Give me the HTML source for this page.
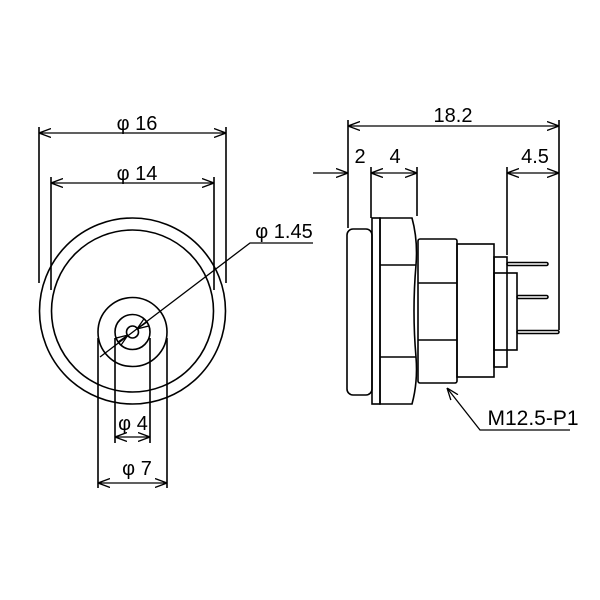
<!DOCTYPE html>
<html><head><style>html,body{margin:0;padding:0;background:#fff}svg{display:block}</style></head>
<body>
<svg width="600" height="600" viewBox="0 0 600 600" xmlns="http://www.w3.org/2000/svg">
<defs>
<marker id="a" viewBox="0 0 12 10" refX="12" refY="5" markerWidth="12" markerHeight="10" markerUnits="userSpaceOnUse" orient="auto-start-reverse">
<path d="M0,0.5 L12,5 L0,9.5" fill="none" stroke="#000" stroke-width="1.3"/></marker>
</defs>
<g fill="none" stroke="#000" stroke-width="1.6">
<circle cx="132.5" cy="311" r="93"/>
<circle cx="132.5" cy="311" r="81"/>
<circle cx="132.5" cy="332" r="34.5"/>
<circle cx="132.5" cy="332" r="17.5"/>
<circle cx="132.5" cy="332" r="6"/>
<line x1="39" y1="127" x2="39" y2="283"/>
<line x1="226" y1="127" x2="226" y2="283"/>
<line x1="51" y1="177" x2="51" y2="290"/>
<line x1="214" y1="177" x2="214" y2="290"/>
<line x1="98" y1="338" x2="98" y2="488"/>
<line x1="167" y1="338" x2="167" y2="488"/>
<line x1="115" y1="338" x2="115" y2="443"/>
<line x1="150" y1="338" x2="150" y2="443"/>
</g>
<g fill="none" stroke="#000" stroke-width="1.3">
<line x1="39" y1="133" x2="226" y2="133" marker-start="url(#a)" marker-end="url(#a)"/>
<line x1="51" y1="183" x2="214" y2="183" marker-start="url(#a)" marker-end="url(#a)"/>
<line x1="115" y1="437" x2="150" y2="437" marker-start="url(#a)" marker-end="url(#a)"/>
<line x1="98" y1="483" x2="167" y2="483" marker-start="url(#a)" marker-end="url(#a)"/>
<polyline points="100,357 250,243 313,243"/>
<line x1="128" y1="335" x2="118" y2="342" marker-start="url(#a)"/>
<line x1="137" y1="329" x2="147" y2="322" marker-start="url(#a)"/>
</g>
<g fill="none" stroke="#000" stroke-width="1.6">
<rect x="347" y="229" width="25" height="166" rx="6"/>
<rect x="372" y="218" width="8" height="186"/>
<path d="M380,218 H412 Q418,240 416,265 Q412,311 416,357 Q418,382 412,404 H380 Z"/>
<line x1="380" y1="265" x2="416" y2="265"/>
<line x1="380" y1="357" x2="416" y2="357"/>
<rect x="418" y="239" width="39" height="144" rx="2"/>
<line x1="418" y1="283" x2="457" y2="283"/>
<line x1="418" y1="340" x2="457" y2="340"/>
<rect x="457" y="244" width="37" height="133"/>
<rect x="494" y="257" width="13" height="110"/>
<rect x="494" y="273" width="23" height="77"/>
<rect x="507" y="262.5" width="41" height="3" rx="1.5"/>
<rect x="517" y="295.5" width="31" height="3" rx="1.5"/>
<rect x="517" y="330.5" width="42" height="3" rx="1.5"/>
<line x1="348" y1="120" x2="348" y2="228"/>
<line x1="559" y1="120" x2="559" y2="330"/>
<line x1="371" y1="167" x2="371" y2="218"/>
<line x1="417" y1="167" x2="417" y2="216"/>
<line x1="507" y1="167" x2="507" y2="255"/>
</g>
<g fill="none" stroke="#000" stroke-width="1.3">
<line x1="348" y1="126" x2="559" y2="126" marker-start="url(#a)" marker-end="url(#a)"/>
<line x1="313" y1="173" x2="348" y2="173" marker-end="url(#a)"/>
<line x1="371" y1="173" x2="417" y2="173" marker-start="url(#a)" marker-end="url(#a)"/>
<line x1="507" y1="173" x2="559" y2="173" marker-start="url(#a)" marker-end="url(#a)"/>
<polyline points="570,430 480,430 447,388" marker-end="url(#a)"/>
</g>
<g font-family="'Liberation Sans','DejaVu Sans',sans-serif" font-size="20" fill="#000">
<text x="137" y="130" text-anchor="middle">φ 16</text>
<text x="137" y="180" text-anchor="middle">φ 14</text>
<text x="284" y="238" text-anchor="middle">φ 1.45</text>
<text x="133" y="430" text-anchor="middle">φ 4</text>
<text x="137" y="475" text-anchor="middle">φ 7</text>
<text x="453" y="122" text-anchor="middle">18.2</text>
<text x="360" y="163" text-anchor="middle">2</text>
<text x="395" y="163" text-anchor="middle">4</text>
<text x="535" y="163" text-anchor="middle">4.5</text>
<text x="533" y="425" text-anchor="middle" font-size="21">M12.5-P1</text>
</g>
</svg>
</body></html>
